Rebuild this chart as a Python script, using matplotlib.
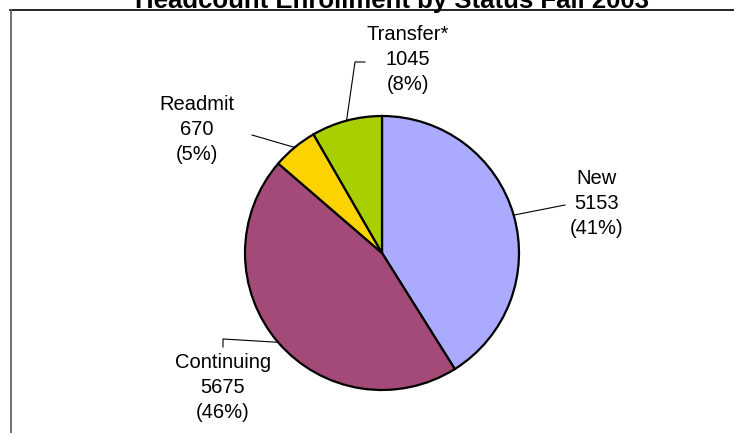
import numpy as np
import matplotlib.pyplot as plt
from matplotlib.lines import Line2D

categories = ["New", "Continuing", "Readmit", "Transfer*"]
headcount = [5153, 5675, 670, 1045]
pct_labels = ["(41%)", "(46%)", "(5%)", "(8%)"]
colors = ["#AAAAFF", "#A34A78", "#FCD200", "#A8D000"]

plt.rcParams['font.family'] = ['Liberation Sans', 'DejaVu Sans']

W, H = 734, 433
fig = plt.figure(figsize=(W / 100, H / 100), dpi=100)
ax = fig.add_axes([0, 0, 1, 1])

# pie in pixel coords (y flipped: 0 at bottom)
cx, cy, r = 382, H - 253, 137
wedges, _ = ax.pie(headcount, colors=colors, startangle=90, counterclock=False,
                   center=(cx, cy), radius=r,
                   wedgeprops=dict(edgecolor='black', linewidth=1.6))
ax.set_xlim(0, W)
ax.set_ylim(0, H)
ax.set_aspect('equal')
ax.axis('off')

# label placement (text center x, middle of first line y in px) and leader routes
label_pos = [(597, 179), (223, 363), (197, 105), (408, 35)]
leader_pts = [
    [(565, 205)],
    [(223, 339), (223, 347)],
    [(252, 135)],
    [(355, 62), (365, 62)],
]

for w, cat, n, p, (tx, ty), pts in zip(wedges, categories, headcount, pct_labels,
                                        label_pos, leader_pts):
    mid = np.deg2rad((w.theta1 + w.theta2) / 2)
    ax_x = cx + r * np.cos(mid)
    ax_y = cy + r * np.sin(mid)
    xs = [ax_x] + [q[0] for q in pts]
    ys = [ax_y] + [H - q[1] for q in pts]
    ax.plot(xs, ys, color='black', lw=0.8)
    for i, line in enumerate([cat, str(n), p]):
        ax.text(tx, H - ty - i * 24.5, line, ha='center', va='center',
                fontsize=14.5, color='black')

# title, mostly cut off at the top
fig.text(392 / W, 1 - 8 / H, "Headcount Enrollment by Status Fall 2003",
         ha='center', va='baseline', fontsize=18.5, fontweight='bold')

# chart frame (top and left edges)
fig.add_artist(Line2D([10 / W, 1], [1 - 9.5 / H, 1 - 9.5 / H], color='black', lw=1.2))
fig.add_artist(Line2D([10.5 / W, 10.5 / W], [0, 1 - 9.5 / H], color='#555555', lw=1.2))

fig.savefig("out.png", dpi=100)
